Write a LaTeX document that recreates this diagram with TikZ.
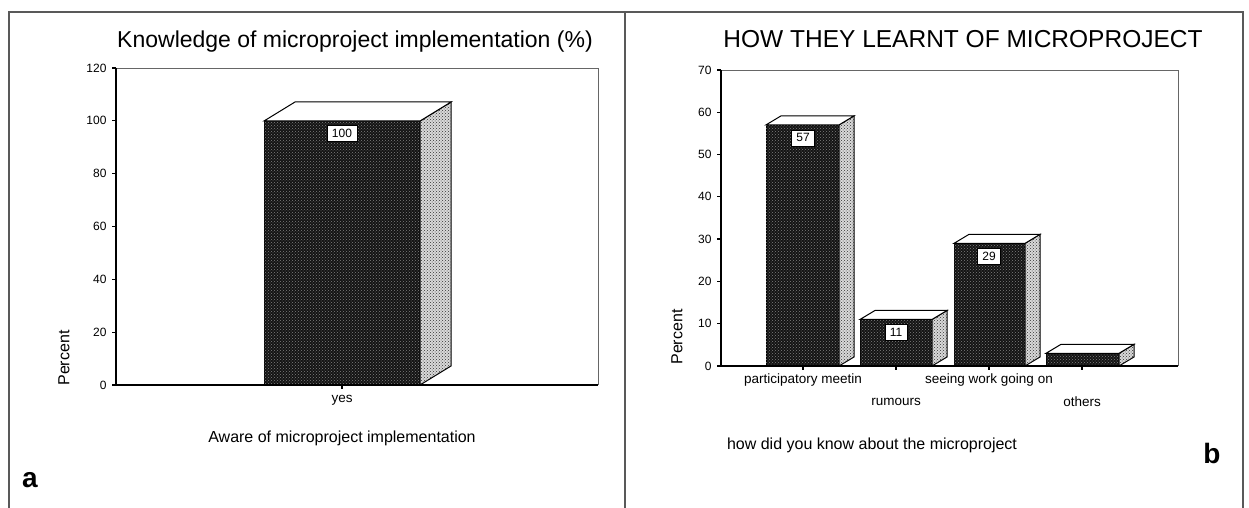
\documentclass[tikz,border=0pt]{standalone}
\usepackage{fontspec}
\setmainfont{Liberation Sans}
\usetikzlibrary{patterns}
\tikzset{panelframe/.style={line width=1.2pt, black!65},
plotaxis/.style={line width=1.3pt},
plotbox/.style={line width=0.9pt, black!60},
barfront/.style={fill=black!92, postaction={pattern=crosshatch dots, pattern color=black!50}, draw=black, line width=1pt},
barside/.style={fill=black!15, postaction={pattern=crosshatch dots, pattern color=black!80}, draw=black, line width=1pt},
bartop/.style={fill=white, draw=black, line width=1pt},
valuebox/.style={draw, fill=white, font=\fontsize{12}{12}\selectfont, inner xsep=5pt, inner ysep=4pt},
ticklab/.style={anchor=east, font=\fontsize{12}{12}\selectfont},
catlab/.style={font=\fontsize{13.5}{13.5}\selectfont},
charttitle/.style={font=\fontsize{23}{23}\selectfont},
xtitle/.style={font=\fontsize{16}{16}\selectfont},
paneltag/.style={font=\bfseries\fontsize{28}{28}\selectfont}
}
% left x, right x, top y, base y, depth x, depth y
\newcommand{\threedbar}[6]{%
  \draw[barfront] (#1,#4) rectangle (#2,#3);
  \draw[barside] (#2,#4) -- (#2,#3) -- ++(#5,-#6) -- ({#2+#5},{#4-#6}) -- cycle;
  \draw[bartop] (#1,#3) -- ++(#5,-#6) -- ({#2+#5},{#3-#6}) -- (#2,#3) -- cycle;
}

\begin{document}
\begin{tikzpicture}[x=1pt, y=-1pt]
        \useasboundingbox (0,0) rectangle (1249,508);
        \draw[panelframe] (9,508) -- (9,12) -- (1243,12) -- (1243,508);
        \draw[panelframe] (625,12) -- (625,508);

        % panel a
        \node[charttitle] (titlea) at (355,42) {Knowledge of microproject implementation (\%)};
        \draw[plotbox] (116,68) -- (598,68) -- (598,385);
        \threedbar{264}{420}{121}{385}{31}{19}
        \draw[plotaxis] (116,68) -- (116,385) -- (598,385);
        \foreach \v in {0,20,...,120} {
          \draw[plotaxis] (112,{385-\v*2.642}) -- (116,{385-\v*2.642});
          \node[ticklab] (ya\v) at (110,{385-\v*2.642}) {\v};
        }
        \node[valuebox] (vala) at (342,133) {100};
        \draw[plotaxis] (342,385) -- (342,389);
        \node[catlab] (yes) at (342,400) {yes};
        \node[xtitle] (xtitlea) at (342,438) {Aware of microproject implementation};
        \node[xtitle, rotate=90] (percenta) at (64,358) {Percent};
        \node[paneltag] (taga) at (30,480) {a};

        % panel b
        \node[charttitle, font=\fontsize{24.5}{24.5}\selectfont] (titleb) at (963,39) {HOW THEY LEARNT OF MICROPROJECT};
        \draw[plotbox] (721,70) -- (1178,70) -- (1178,366);
        \foreach \xl/\xr/\v in {766/839/57, 860/932/11, 954/1025/29, 1046/1119/3} {
          \threedbar{\xl}{\xr}{366-\v*4.23}{366}{15}{9}
        }
        \draw[plotaxis] (721,70) -- (721,366) -- (1178,366);
        \foreach \v in {0,10,...,70} {
          \draw[plotaxis] (717,{366-\v*4.23}) -- (721,{366-\v*4.23});
          \node[ticklab] (yb\v) at (715,{366-\v*4.23}) {\v};
        }
        \foreach \xc/\v in {803/57, 896/11, 989/29} {
          \node[valuebox] (valb\v) at (\xc,{366-\v*4.23+13}) {\v};
        }
        \foreach \xc in {803,896,989,1082} {
          \draw[plotaxis] (\xc,366) -- (\xc,370);
        }
        \node[catlab] (meetin) at (803,380) {participatory meetin};
        \node[catlab] (rumours) at (896,402) {rumours};
        \node[catlab] (seeing) at (989,380) {seeing work going on};
        \node[catlab] (others) at (1082,402) {others};
        \node[xtitle] (xtitleb) at (872,445) {how did you know about the microproject};
        \node[xtitle, rotate=90] (percentb) at (677,337) {Percent};
        \node[paneltag] (tagb) at (1212,453) {b};
\end{tikzpicture}
\end{document}
